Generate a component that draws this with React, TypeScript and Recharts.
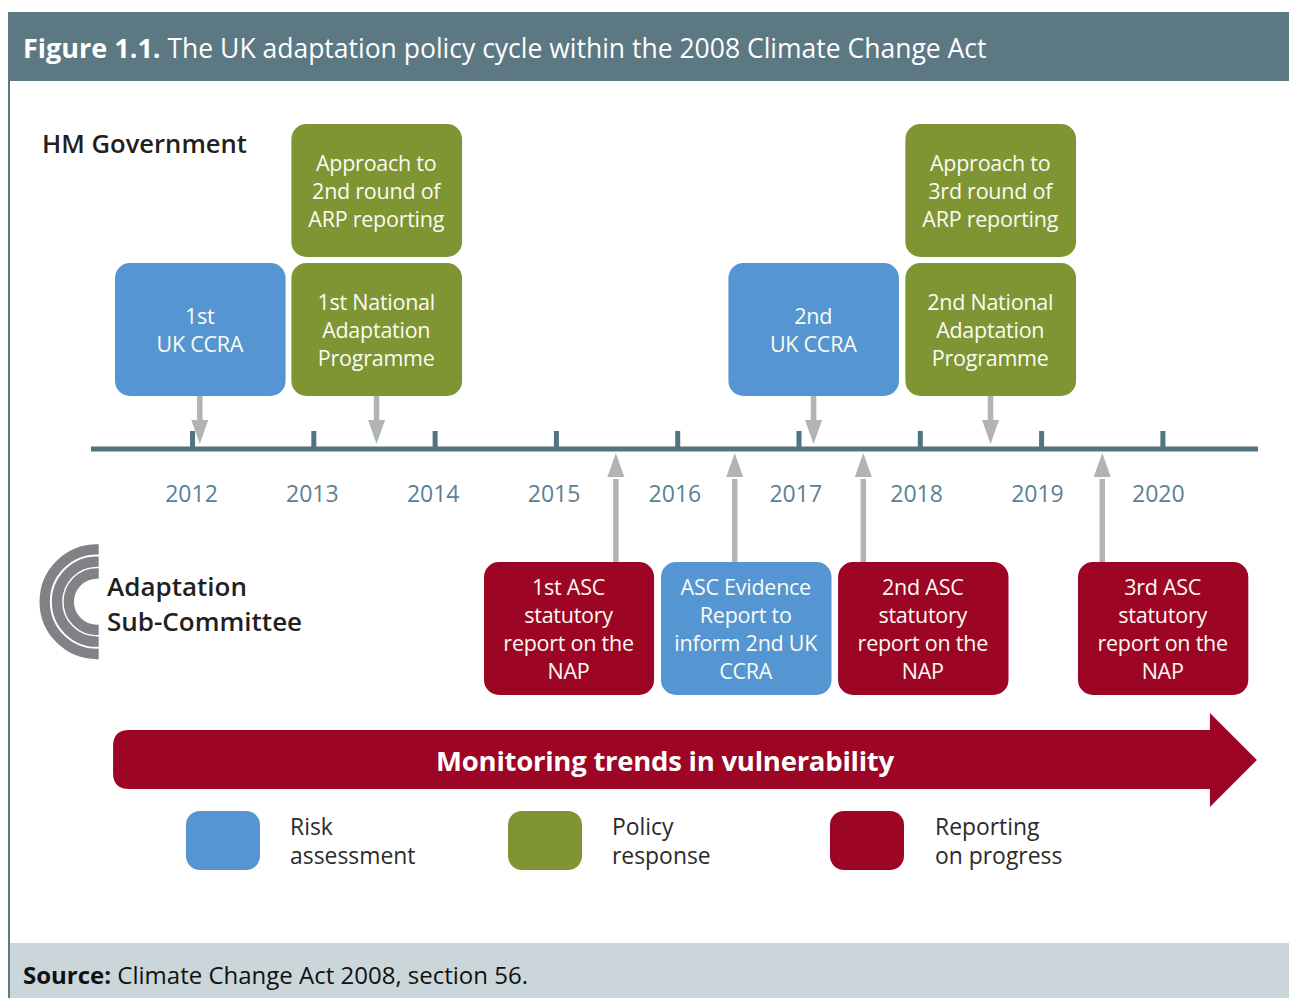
import { ReferenceArea, ReferenceLine, Scatter, ScatterChart, XAxis, YAxis } from 'recharts'

const FONT = '"Open Sans", sans-serif'
const BLUE = '#5596d2'
const GREEN = '#7f9433'
const RED = '#9c0524'
const SLATE = '#5b7883'
const ARROW_GREY = '#b2b3b5'
const TEXT_DARK = '#231f20'

const years = [2012, 2013, 2014, 2015, 2016, 2017, 2018, 2019, 2020]

// levels: 0 is the timeline, one unit is 100px on screen
const upperBoxes = [
  { from: 2012.815, to: 2014.222, lines: ['Approach to', '2nd round of', 'ARP reporting'], color: GREEN },
  { from: 2017.877, to: 2019.284, lines: ['Approach to', '3rd round of', 'ARP reporting'], color: GREEN },
]
const middleBoxes = [
  { from: 2011.361, to: 2012.767, lines: ['1st', 'UK CCRA'], color: BLUE },
  { from: 2012.815, to: 2014.222, lines: ['1st National', 'Adaptation', 'Programme'], color: GREEN },
  { from: 2016.418, to: 2017.824, lines: ['2nd', 'UK CCRA'], color: BLUE },
  { from: 2017.877, to: 2019.284, lines: ['2nd National', 'Adaptation', 'Programme'], color: GREEN },
]
const lowerBoxes = [
  { from: 2014.403, to: 2015.805, lines: ['1st ASC', 'statutory', 'report on the', 'NAP'], color: RED },
  { from: 2015.862, to: 2017.268, lines: ['ASC Evidence', 'Report to', 'inform 2nd UK', 'CCRA'], color: BLUE },
  { from: 2017.322, to: 2018.727, lines: ['2nd ASC', 'statutory', 'report on the', 'NAP'], color: RED },
  { from: 2019.3, to: 2020.704, lines: ['3rd ASC', 'statutory', 'report on the', 'NAP'], color: RED },
]
const downArrowYears = [2012.06, 2013.517, 2017.12, 2018.579]
const upArrowYears = [2015.49, 2016.47, 2017.53, 2019.5]
const legendItems = [
  { left: 186, textLeft: 290, color: BLUE, lines: ['Risk', 'assessment'] },
  { left: 508, textLeft: 612, color: GREEN, lines: ['Policy', 'response'] },
  { left: 830, textLeft: 935, color: RED, lines: ['Reporting', 'on progress'] },
]

function boxShape(lines: string[], color: string) {
  return (p: any) => {
    const cx = p.x + p.width / 2 - 0.5
    const first = p.y + p.height / 2 + 8.5 - ((lines.length - 1) * 28) / 2
    return (
      <g>
        <rect x={p.x} y={p.y} width={p.width} height={p.height} rx={15} fill={color} />
        {lines.map((line, i) => (
          <text key={i} x={cx} y={first + i * 28} textAnchor="middle" fill="#fbfbf4" fontFamily={FONT} fontSize={21.5} letterSpacing={-0.25}>
            {line}
          </text>
        ))}
      </g>
    )
  }
}

function TimelineTick(p: any) {
  // the printed year labels sit on a slightly tighter pitch than the ticks
  const labelX = p.cx - 1 - (p.payload.year - 2012) * 0.45
  return (
    <g>
      <rect x={p.cx - 2.5} y={p.cy - 18} width={5} height={18} fill="#527380" />
      <text x={labelX} y={p.cy + 53} textAnchor="middle" fill="#5b8194" fontFamily={FONT} fontSize={23}>
        {p.payload.year}
      </text>
    </g>
  )
}

function DownHead(p: any) {
  return <polygon points={`${p.cx},${p.cy} ${p.cx - 8.5},${p.cy - 24} ${p.cx + 8.5},${p.cy - 24}`} fill={ARROW_GREY} />
}

function UpHead(p: any) {
  return <polygon points={`${p.cx},${p.cy} ${p.cx - 8.5},${p.cy + 24} ${p.cx + 8.5},${p.cy + 24}`} fill={ARROW_GREY} />
}

function TrendArrow(p: any) {
  const headX = p.x + p.width - 47
  const top = p.y + 17
  const bottom = p.y + 76
  const midY = p.y + p.height / 2
  const d = `M ${p.x + 16} ${top} L ${headX} ${top} L ${headX} ${p.y} L ${p.x + p.width} ${midY} L ${headX} ${p.y + p.height} L ${headX} ${bottom} L ${p.x + 16} ${bottom} Q ${p.x} ${bottom} ${p.x} ${bottom - 16} L ${p.x} ${top + 16} Q ${p.x} ${top} ${p.x + 16} ${top} Z`
  return (
    <g>
      <path d={d} fill={RED} />
      <text x={665} y={top + 41} textAnchor="middle" fill="#fff" fontFamily={FONT} fontWeight={700} fontSize={27.5} letterSpacing={-0.25}>
        Monitoring trends in vulnerability
      </text>
    </g>
  )
}

const allBoxes = [
  ...upperBoxes.map(b => ({ ...b, top: 3.25, bottom: 1.92 })),
  ...middleBoxes.map(b => ({ ...b, top: 1.86, bottom: 0.53 })),
  ...lowerBoxes.map(b => ({ ...b, top: -1.13, bottom: -2.46 })),
]

const Note = ({ left, top, size, weight, color, children }: any) => (
  <div style={{ position: 'absolute', left, top, fontFamily: FONT, fontSize: size, fontWeight: weight ?? 400, color: color ?? TEXT_DARK, whiteSpace: 'nowrap', lineHeight: 1.2 }}>
    {children}
  </div>
)

export default function App() {
  return (
    <div style={{ position: 'absolute', left: 0, top: 0, width: 1289, height: 998, background: '#fff', overflow: 'hidden' }}>
      <div style={{ position: 'absolute', left: 8, top: 12, width: 1281, height: 69, background: SLATE }} />
      <div style={{ position: 'absolute', left: 8, top: 81, width: 2, height: 917, background: SLATE }} />
      <div style={{ position: 'absolute', left: 10, top: 943, width: 1279, height: 55, background: '#cbd6db' }} />
      <Note left={23} top={32} size={26.5} color="#fff">
        <b style={{ fontSize: 27 }}>Figure 1.1.</b> The UK adaptation policy cycle within the 2008 Climate Change Act
      </Note>
      <Note left={23} top={961} size={24} color="#111">
        <b>Source:</b> Climate Change Act 2008, section 56.
      </Note>

      <div style={{ position: 'absolute', left: 0, top: 0 }}>
        <ScatterChart width={1289} height={998} margin={{ top: 0, right: 31, bottom: 0, left: 91 }}>
          <XAxis type="number" dataKey="year" domain={[2011.163, 2020.784]} hide />
          <YAxis type="number" dataKey="level" domain={[-5.49, 4.49]} hide />
          <ReferenceLine y={0} stroke="#527380" strokeWidth={5} />
          {downArrowYears.map(x => (
            <ReferenceLine key={x} segment={[{ x, y: 0.53 }, { x, y: 0.25 }]} stroke={ARROW_GREY} strokeWidth={5.5} />
          ))}
          {upArrowYears.map(x => (
            <ReferenceLine key={x} segment={[{ x, y: -1.13 }, { x, y: -0.3 }]} stroke={ARROW_GREY} strokeWidth={5.5} />
          ))}
          <Scatter data={years.map(year => ({ year, level: 0 }))} shape={TimelineTick} isAnimationActive={false} />
          <Scatter data={downArrowYears.map(year => ({ year, level: 0.05 }))} shape={DownHead} isAnimationActive={false} />
          <Scatter data={upArrowYears.map(year => ({ year, level: -0.04 }))} shape={UpHead} isAnimationActive={false} />
          {allBoxes.map((b, i) => (
            <ReferenceArea key={i} x1={b.from} x2={b.to} y1={b.bottom} y2={b.top} shape={boxShape(b.lines, b.color)} />
          ))}
          <ReferenceArea x1={2011.345} x2={2020.775} y1={-3.58} y2={-2.64} shape={TrendArrow} />
        </ScatterChart>
      </div>

      <Note left={42} top={129} size={25.6} weight={600}>HM Government</Note>
      <Note left={107} top={571} size={26} weight={600}>Adaptation</Note>
      <Note left={107} top={606} size={26} weight={600}>Sub-Committee</Note>

      <svg width={110} height={130} style={{ position: 'absolute', left: 0, top: 540 }}>
        {[52.3, 40, 28.2].map(r => (
          <path key={r} d={`M 98.7 ${61.7 - r} L 97 ${61.7 - r} A ${r} ${r} 0 0 0 97 ${61.7 + r} L 98.7 ${61.7 + r}`} fill="none" stroke="#808285" strokeWidth={10.3} />
        ))}
      </svg>

      {legendItems.map(item => (
        <div key={item.left}>
          <div style={{ position: 'absolute', left: item.left, top: 811, width: 74, height: 59, borderRadius: 14, background: item.color }} />
          <Note left={item.textLeft} top={813} size={22.9} color="#2c2a2b">{item.lines[0]}</Note>
          <Note left={item.textLeft} top={842} size={22.9} color="#2c2a2b">{item.lines[1]}</Note>
        </div>
      ))}
    </div>
  )
}
